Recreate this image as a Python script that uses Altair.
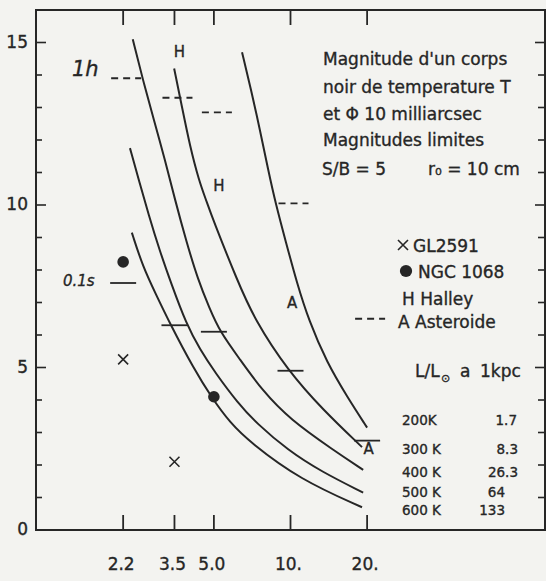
import altair as alt
import pandas as pd

# ---------------- data ----------------
temperatures = ["200K", "300 K", "400 K", "500 K", "600 K"]
luminosities = ["1.7", "8.3", "26.3", "64", "133"]

lam_200 = [6.45, 7.0, 7.59, 8.16, 8.77, 9.6, 10.6, 11.8, 13.9, 16.7, 20.0]
mag_200 = [14.7, 13.55, 12.3, 11.1, 10.0, 8.85, 7.6, 6.45, 5.15, 4.1, 3.15]
lam_300 = [3.49, 3.75, 4.03, 4.37, 4.66, 4.96, 6.16, 7.25, 9.78, 13.4, 19.1]
mag_300 = [14.2, 13.0, 11.8, 10.75, 10.15, 9.55, 7.7, 6.45, 4.9, 3.7, 2.55]
lam_400 = [2.4, 2.63, 2.91, 3.21, 3.52, 3.89, 4.33, 4.79, 5.28, 6.33, 7.73, 9.95, 14.8, 19.3]
mag_400 = [15.1, 13.85, 12.6, 11.4, 10.15, 8.9, 7.7, 6.85, 6.1, 5.25, 4.3, 3.4, 2.45, 1.85]
lam_500 = [2.34, 2.54, 2.77, 3.06, 3.41, 3.89, 4.41, 5.05, 6.22, 7.32, 9.78, 13.2, 19.3]
mag_500 = [11.75, 10.75, 9.7, 8.6, 7.55, 6.35, 5.55, 4.85, 3.9, 3.3, 2.45, 1.8, 1.15]
lam_600 = [2.38, 2.63, 2.96, 3.36, 4.14, 4.92, 5.79, 6.93, 10.9, 19.1]
mag_600 = [9.15, 8.1, 7.25, 6.35, 5.0, 4.05, 3.3, 2.7, 1.55, 0.7]

band_lam = [2.2, 3.5, 5.0, 10.0, 20.0]
band_labels = ["2.2", "3.5", "5.0", "10.", "20."]
limit_01s = [7.6, 6.3, 6.1, 4.9, 2.75]      # solid bars, 0.1 s
limit_1h = [13.9, 13.3, 12.85, 10.05, 6.5]  # dashed bars, 1 h

gl2591_lam = [2.2, 3.5]
gl2591_mag = [5.25, 2.1]
ngc1068_lam = [2.2, 5.0]
ngc1068_mag = [8.25, 4.1]
halley_lam = [3.5, 5.0]
halley_mag = [14.7, 10.6]
aster_lam = [10.0, 20.0]
aster_mag = [7.0, 2.5]

y_major = [0, 5, 10, 15]
y_major_labels = ["0", "5", "10", "15"]
y_minor = [1, 2, 3, 4, 6, 7, 8, 9, 11, 12, 13, 14]

# ---------------- style / layout ----------------
INK = "#262626"
BG = "#f3f3f0"
FONT = "DejaVu Sans"
L, T, W, H = 36, 10, 509, 520

xs = alt.Scale(type="log", domain=[1, 100], nice=False)
ys = alt.Scale(domain=[0, 16], nice=False)
CROSS = "M-1,-1L1,1M-1,1L1,-1"

curve_lams = [lam_200, lam_300, lam_400, lam_500, lam_600]
curve_mags = [mag_200, mag_300, mag_400, mag_500, mag_600]
curves_df = pd.concat(
    [pd.DataFrame({"lam": la, "mag": ma, "temp": t})
     for la, ma, t in zip(curve_lams, curve_mags, temperatures)],
    ignore_index=True)

bands_df = pd.DataFrame({"lam": band_lam, "label": band_labels,
                         "m01": limit_01s, "m1h": limit_1h})
gl_df = pd.DataFrame({"lam": gl2591_lam, "mag": gl2591_mag})
ngc_df = pd.DataFrame({"lam": ngc1068_lam, "mag": ngc1068_mag})
hal_df = pd.DataFrame({"lam": halley_lam, "mag": halley_mag})
ast_df = pd.DataFrame({"lam": aster_lam, "mag": aster_mag})
ymaj_df = pd.DataFrame({"mag": y_major, "label": y_major_labels})
ymin_df = pd.DataFrame({"mag": y_minor})

TXT = dict(font=FONT, color=INK, stroke=INK, strokeWidth=0.35)


def XN(f="lam"):
    return alt.X(f"{f}:Q", scale=xs, axis=None)


def YN(f="mag"):
    return alt.Y(f"{f}:Q", scale=ys, axis=None)


curves = alt.Chart(curves_df).mark_line(
    interpolate="basis", color=INK, strokeWidth=2
).encode(x=XN(), y=YN(), detail="temp:N")

solid = alt.Chart(bands_df).mark_rule(
    color=INK, strokeWidth=1.8, xOffset=-13, x2Offset=13
).encode(x=XN(), x2="lam:Q", y=YN("m01"))

dashed = alt.Chart(bands_df).mark_rule(
    color=INK, strokeWidth=1.8, xOffset=-12, x2Offset=18, strokeDash=[7, 5]
).encode(x=XN(), x2="lam:Q", y=YN("m1h"))

gl = alt.Chart(gl_df).mark_point(
    shape=CROSS, size=100, filled=False, strokeWidth=1.6, color=INK, opacity=1
).encode(x=XN(), y=YN())

ngc = alt.Chart(ngc_df).mark_circle(size=135, color=INK, opacity=1).encode(
    x=XN(), y=YN())

hal = alt.Chart(hal_df).mark_text(
    text="H", fontSize=15, dx=5, baseline="middle", **TXT
).encode(x=XN(), y=YN())

ast = alt.Chart(ast_df).mark_text(
    text="A", fontSize=15, dx=1.5, baseline="middle", **TXT
).encode(x=XN(), y=YN())

# inward ticks on all four sides
tick_bot = alt.Chart(bands_df).mark_rule(color=INK, strokeWidth=1.8).encode(
    x=XN(), y=alt.value(H), y2=alt.value(H - 15))
tick_top = alt.Chart(bands_df).mark_rule(color=INK, strokeWidth=1.8).encode(
    x=XN(), y=alt.value(0), y2=alt.value(15))
tl_maj = alt.Chart(ymaj_df).mark_rule(color=INK, strokeWidth=1.6).encode(
    y=YN(), x=alt.value(0), x2=alt.value(10))
tl_min = alt.Chart(ymin_df).mark_rule(color=INK, strokeWidth=1.6).encode(
    y=YN(), x=alt.value(0), x2=alt.value(6))
tr_maj = alt.Chart(ymaj_df).mark_rule(color=INK, strokeWidth=1.6).encode(
    y=YN(), x=alt.value(W), x2=alt.value(W - 10))
tr_min = alt.Chart(ymin_df).mark_rule(color=INK, strokeWidth=1.6).encode(
    y=YN(), x=alt.value(W), x2=alt.value(W - 7))

# tick labels
xlab = alt.Chart(bands_df).mark_text(
    fontSize=17, align="center", baseline="alphabetic", dx=-2, **TXT
).encode(x=XN(), y=alt.value(H + 40), text="label:N")
ylab = alt.Chart(ymaj_df).mark_text(
    fontSize=17, align="right", baseline="middle", **TXT
).encode(y=YN(), x=alt.value(-8), text="label:N")

ONE = alt.Data(values=[{"a": 1}])


def txt(s, px, py, size=17, align="left", style="normal"):
    return alt.Chart(ONE).mark_text(
        text=s, align=align, baseline="alphabetic", fontSize=size,
        fontStyle=style, **TXT
    ).encode(x=alt.value(px - L), y=alt.value(py - T))


texts = [
    txt("Magnitude d'un corps", 323, 65),
    txt("noir de temperature T", 323, 93),
    txt("et Φ 10 milliarcsec", 323, 120),
    txt("Magnitudes limites", 323, 146),
    txt("S/B = 5", 322, 175),
    txt("r₀ = 10 cm", 428, 175),
    txt("GL2591", 413, 252),
    txt("NGC 1068", 418, 278),
    txt("H Halley", 402, 305),
    txt("A Asteroide", 398, 328),
    txt("L/L", 415, 377),
    txt("⊙", 441, 382, size=11),
    txt("a", 460, 377),
    txt("1kpc", 480, 377),
    txt("1h", 72, 76, size=21, style="italic"),
    txt("0.1s", 63, 286, size=15, style="italic"),
]

row_base = [425, 454, 477, 497, 515]
val_right = [517, 518, 518, 505, 505]
for t, v, yb, xr in zip(temperatures, luminosities, row_base, val_right):
    texts.append(txt(t, 402, yb, size=13.5))
    texts.append(txt(v, xr, yb, size=13.5, align="right"))

leg_cross = alt.Chart(ONE).mark_point(
    shape=CROSS, size=100, filled=False, strokeWidth=1.6, color=INK, opacity=1
).encode(x=alt.value(403 - L), y=alt.value(245 - T))
leg_dot = alt.Chart(ONE).mark_circle(size=150, color=INK, opacity=1).encode(
    x=alt.value(406 - L), y=alt.value(271 - T))

chart = alt.layer(
    curves, solid, dashed, gl, ngc, hal, ast,
    tick_bot, tick_top, tl_maj, tl_min, tr_maj, tr_min, xlab, ylab,
    leg_cross, leg_dot, *texts
).properties(
    width=W, height=H,
    padding={"left": L, "top": T, "right": 546 - L - W, "bottom": 581 - T - H},
    autosize=alt.AutoSizeParams(type="none"),
).configure(background=BG).configure_view(stroke=INK, strokeWidth=2)

chart.save("out.html", embed_options={"renderer": "svg", "actions": False})
